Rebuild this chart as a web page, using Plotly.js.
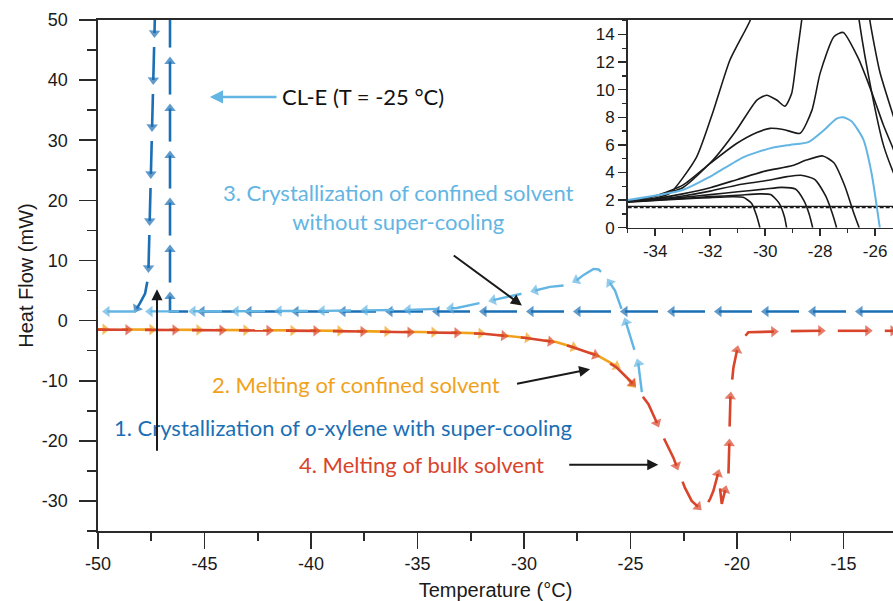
<!DOCTYPE html>
<html><head><meta charset="utf-8">
<script src="https://cdn.plot.ly/plotly-3.0.1.min.js"></script>
<style>body{margin:0;background:#fff}#chart{width:893px;height:601px}</style>
</head><body><div id="chart"></div>
<script>
// ---------- main chart data (Temperature °C, Heat Flow mW) ----------
const bulkCoolX = [-12.68,-20,-30,-40,-46.62,-46.62,-47.29,-47.64,-47.79,-48.03,-48.18];
const bulkCoolY = [1.5,1.5,1.5,1.5,1.5,56,56,7.3,4.5,2.9,2.0];

const confCoolX = [-24.47,-24.63,-24.95,-25.34,-25.73,-26.2,-26.5,-26.74,-27.2,-27.5,-28.0,-28.78,-30.19,-31.9,-33.16,-35,-40,-45,-50];
const confCoolY = [-11.9,-7.2,-3.3,1.1,5.0,7.5,8.5,8.6,7.6,6.8,5.9,5.6,4.4,3.05,2.1,1.8,1.6,1.55,1.5];

const confMeltX = [-50,-45,-40,-36,-33,-31.9,-29.9,-28.5,-27.7,-26.6,-25.65,-24.9];
const confMeltY = [-1.45,-1.55,-1.65,-1.85,-2.0,-2.15,-2.85,-3.55,-4.4,-5.7,-7.6,-10.6];

const bulkMeltX = [-50,-45,-40,-36,-33,-31.9,-29.9,-28.5,-27.7,-26.6,-25.65,-24.87,-24.16,-23.46,-22.99,-22.45,-22.13,-21.61,-21.27,-21.11,-20.88,-20.72,-20.41,-20.36,-20.33,-20.17,-19.94,-19.47,-17,-12.68];
const bulkMeltY = [-1.5,-1.6,-1.7,-1.9,-2.05,-2.2,-2.9,-3.6,-4.45,-5.8,-7.8,-10.55,-13.9,-19.4,-22.8,-27.8,-30,-31.7,-29.7,-28.3,-25.3,-30.5,-26.1,-20,-13.3,-7.8,-3.9,-1.95,-1.7,-1.7];

// main tick labels
const xTickVals = [-50,-45,-40,-35,-30,-25,-20,-15];
const yTickVals = [-30,-20,-10,0,10,20,30,40,50];
const ixTickVals = [-34,-32,-30,-28,-26];
const iyTickVals = [0,2,4,6,8,10,12,14];

// ---------- inset data ----------
const baseX = [-35,-25];
const baseY1 = [1.55,1.55];
const baseY2 = [1.45,1.45];
const aX = [-35,-34,-33,-32,-31.2,-30.8,-30.49,-30.3,-30.19];
const aY = [1.85,1.98,2.08,2.18,2.24,2.2,1.76,0.8,0];
const bX = [-35,-34,-33,-32,-31,-30.2,-29.8,-29.5,-29.3,-29.22];
const bY = [1.88,2.0,2.12,2.25,2.35,2.45,2.4,1.8,0.8,0];
const cX = [-35,-34,-33,-32,-31,-30,-29.4,-28.9,-28.6,-28.4,-28.27];
const cY = [1.9,2.02,2.2,2.4,2.6,2.8,2.92,2.8,2.0,1.0,0];
const dX = [-35,-34,-33,-32,-31,-30,-29.2,-28.7,-28.2,-27.8,-27.55,-27.4];
const dY = [1.9,2.05,2.3,2.65,3.1,3.4,3.7,3.8,3.5,2.3,1.0,0];
const eX = [-35,-34,-33,-32,-31,-30,-29,-28.5,-27.9,-27.5,-27.1,-26.8,-26.58];
const eY = [1.9,2.1,2.45,2.9,3.5,4.1,4.5,4.9,5.2,4.7,3.0,1.2,0];
const fX = [-35,-33,-32,-30.8,-29.83,-29.1,-28.43,-27.9,-27.4,-27.16,-26.85,-26.43,-26.13,-25.83];
const fY = [2.0,2.73,3.7,5.1,5.75,6.0,6.2,7.0,7.9,8.0,7.7,6.4,3.95,0];
const hX = [-35,-34,-32.98,-32.0,-31.04,-30.3,-29.82,-29.3,-28.73,-28.3,-28.0,-27.5,-27.16,-26.61,-26.31,-26.0,-25.7,-25.35,-25];
const hY = [1.95,2.3,3.1,4.66,6.1,6.9,7.2,7.1,6.84,8.5,11.2,13.84,14.15,12.27,10.8,9.13,7.44,5.75,4.0];
const gX = [-35,-34,-33,-31.9,-31.04,-30.3,-29.95,-29.58,-29.28,-29.04,-28.85,-28.67,-28.5,-27.6,-26.7,-26.58,-26.13,-25.7,-25.35,-25];
const gY = [1.95,2.3,2.9,4.9,7.08,9.25,9.6,9.25,8.8,9.7,12.4,15.05,17.5,25,17,15,9.86,6.0,4.06,2.5];
const iX = [-35,-34,-33.46,-32.5,-31.88,-31.28,-30.55,-30.2,-28.2,-26.3,-26.19,-25.83,-25.35,-25];
const iY = [1.9,2.15,2.5,5.1,8.5,12.15,15,17,30,17,15,11.3,8.17,6];

// ---------- layout geometry ----------
const W = 893, H = 601;
const M = {l: 98, r: 0, t: 20, b: 70};
const XR = [-50, -12.68], YR = [-35, 50];
const IXR = [-35, -25.35], IYR = [0, 15.05];
const kx = (W - M.l - M.r) / (XR[1] - XR[0]);
const ky = (H - M.t - M.b) / (YR[1] - YR[0]);

const C = {dark: '#1b6fb5', light: '#63b5e3', red: '#d8452a', orange: '#f0a21c', ink: '#1a1a1a'};

// split a path into arrow-headed dashes (pixel-length based)
function dashify(xs, ys, dash, gap, phase, head) {
  const px = xs.map(v => v * kx), py = ys.map(v => v * ky);
  const X = [], Y = [], S = [];
  const period = dash + gap;
  let s = ((phase % period) + period) % period;
  let cur = null;
  function flush(pts) {
    let len = 0;
    for (let k = 1; k < pts.length; k++) len += Math.hypot(pts[k][0]-pts[k-1][0], pts[k][1]-pts[k-1][1]);
    if (len > 5) {
      pts.forEach((p, k) => { X.push(p[0] / kx); Y.push(p[1] / ky); S.push(k === pts.length - 1 ? head : 0); });
      X.push(null); Y.push(null); S.push(0);
    }
  }
  for (let i = 0; i < px.length - 1; i++) {
    const x0 = px[i], y0 = py[i], x1 = px[i+1], y1 = py[i+1];
    const L = Math.hypot(x1 - x0, y1 - y0);
    if (L === 0) continue;
    let t = 0;
    while (t < L - 1e-9) {
      const inDash = s < dash;
      const remain = inDash ? dash - s : period - s;
      const step = Math.min(remain, L - t);
      const tn = t + step;
      if (inDash) {
        if (!cur) cur = [[x0 + (x1-x0)*t/L, y0 + (y1-y0)*t/L]];
        cur.push([x0 + (x1-x0)*tn/L, y0 + (y1-y0)*tn/L]);
      }
      s += step; t = tn;
      if (inDash && s >= dash - 1e-9) { flush(cur); cur = null; }
      if (s >= period - 1e-9) s = 0;
    }
  }
  if (cur) flush(cur);
  return {X, Y, S};
}

function arrowTrace(xs, ys, color, dash, gap, phase, width, head) {
  const d = dashify(xs, ys, dash, gap, phase, head);
  return {
    type: 'scatter', mode: 'lines+markers', x: d.X, y: d.Y, xaxis: 'x', yaxis: 'y',
    connectgaps: false, hoverinfo: 'skip',
    line: {color: color, width: width, backoff: 0},
    marker: {symbol: 'triangle-up', angleref: 'previous', size: d.S, color: color, line: {width: 0}}
  };
}

function insetLine(xs, ys, color, width, dash) {
  return {type: 'scatter', mode: 'lines', x: xs, y: ys, xaxis: 'x2', yaxis: 'y2',
    hoverinfo: 'skip', line: {color: color, width: width, dash: dash || 'solid', shape: 'spline', smoothing: 0.6}};
}

const traces = [
  arrowTrace(confMeltX, confMeltY, C.orange, 30, 17, 23, 2.6, 10),
  arrowTrace(bulkMeltX, bulkMeltY, C.red, 30, 17, 0, 2.6, 10),
  arrowTrace(bulkCoolX, bulkCoolY, C.dark, 33, 14, 0, 2.6, 10),
  arrowTrace(confCoolX, confCoolY, C.light, 29, 14, 0, 2.4, 10),
  insetLine(baseX, baseY1, C.ink, 1.3),
  insetLine(baseX, baseY2, C.ink, 1.3, '4px,2px'),
  insetLine(aX, aY, C.ink, 1.6),
  insetLine(bX, bY, C.ink, 1.6),
  insetLine(cX, cY, C.ink, 1.6),
  insetLine(dX, dY, C.ink, 1.6),
  insetLine(eX, eY, C.ink, 1.6),
  insetLine(gX, gY, C.ink, 1.6),
  insetLine(hX, hY, C.ink, 1.6),
  insetLine(iX, iY, C.ink, 1.6),
  insetLine(fX, fY, C.light, 2)
];

const TXT = 'Lato, "Open Sans", sans-serif';
function label(text, x, y, color) {
  return {xref: 'x', yref: 'y', x: x, y: y, text: text, showarrow: false,
    font: {family: TXT, size: 22, color: color}, xanchor: 'center', yanchor: 'middle'};
}
function pointer(x0, y0, x1, y1, color, w) {
  return {xref: 'x', yref: 'y', axref: 'x', ayref: 'y', x: x1, y: y1, ax: x0, ay: y0, text: '',
    showarrow: true, arrowhead: 2, arrowsize: 1.1, arrowwidth: w || 2, arrowcolor: color || C.ink};
}

const annotations = [
  label('CL-E (T = -25 °C)', -37.55, 37.2, '#111'),
  pointer(-41.55, 37.2, -44.75, 37.2, C.light, 2.4),
  label('3. Crystallization of confined solvent<br>without super-cooling', -35.9, 18.9, C.light),
  pointer(-33.37, 11.0, -30.1, 2.5),
  label('2. Melting of confined solvent', -37.9, -10.7, C.orange),
  pointer(-30.4, -10.55, -26.9, -8.1),
  label('1. Crystallization of <i>o</i>-xylene with super-cooling', -38.5, -17.7, C.dark),
  pointer(-47.23, -21.9, -47.23, 5.2),
  label('4. Melting of bulk solvent', -34.8, -24.0, C.red),
  pointer(-27.95, -24.0, -23.7, -24.0)
];

const axInk = '#2a2a2a';
const layout = {
  width: W, height: H, margin: Object.assign({pad: 0}, M),
  paper_bgcolor: '#fff', plot_bgcolor: '#fff', showlegend: false,
  font: {family: '"Liberation Sans", Arial, sans-serif', color: '#1a1a1a'},
  xaxis: {range: XR, domain: [0, 1], anchor: 'y', showline: true, linecolor: axInk, linewidth: 1.6, mirror: true,
    ticks: 'outside', ticklen: 16, tickwidth: 1.6, tickcolor: axInk,
    tickmode: 'array', tickvals: xTickVals, ticktext: xTickVals.map(String),
    minor: {tickmode: 'linear', tick0: -50, dtick: 2.5, ticks: 'outside', ticklen: 8, tickwidth: 1.6, tickcolor: axInk},
    showgrid: false, zeroline: false, tickfont: {size: 18},
    title: {text: 'Temperature (°C)', font: {size: 20}, standoff: 10}},
  yaxis: {range: YR, domain: [0, 1], anchor: 'x', showline: true, linecolor: axInk, linewidth: 1.6,
    ticks: 'outside', ticklen: 17, tickwidth: 1.6, tickcolor: axInk,
    tickmode: 'array', tickvals: yTickVals, ticktext: yTickVals.map(String),
    minor: {tickmode: 'linear', tick0: -35, dtick: 5, ticks: 'outside', ticklen: 9, tickwidth: 1.6, tickcolor: axInk},
    showgrid: false, zeroline: false, tickfont: {size: 18}, ticklabelstandoff: 8,
    title: {text: 'Heat Flow (mW)', font: {size: 20}, standoff: 3}},
  xaxis2: {range: IXR, domain: [(627.7 - M.l) / (W - M.l - M.r), 1], anchor: 'y2', showline: true,
    linecolor: axInk, linewidth: 1.6, ticks: 'outside', ticklen: 7, tickwidth: 1.5, tickcolor: axInk,
    tickmode: 'array', tickvals: ixTickVals, ticktext: ixTickVals.map(String),
    minor: {tickmode: 'linear', tick0: -35, dtick: 1, ticks: 'outside', ticklen: 4, tickwidth: 1.3, tickcolor: axInk},
    showgrid: false, zeroline: false, tickfont: {size: 17}},
  yaxis2: {range: IYR, domain: [(H - M.b - 227.7) / (H - M.t - M.b), 1], anchor: 'x2', showline: true,
    linecolor: axInk, linewidth: 1.6, ticks: 'outside', ticklen: 8, tickwidth: 1.5, tickcolor: axInk,
    tickmode: 'array', tickvals: iyTickVals, ticktext: iyTickVals.map(String),
    minor: {tickmode: 'linear', tick0: 0, dtick: 1, ticks: 'outside', ticklen: 4, tickwidth: 1.3, tickcolor: axInk},
    showgrid: false, zeroline: false, tickfont: {size: 17}},
  annotations: annotations
};

Plotly.newPlot('chart', traces, layout, {staticPlot: true, displayModeBar: false});
</script></body></html>
